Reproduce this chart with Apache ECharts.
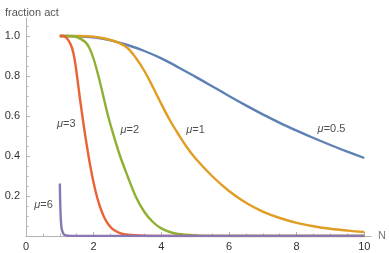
<!DOCTYPE html>
<html>
<head>
<meta charset="utf-8">
<script src="https://cdn.jsdelivr.net/npm/echarts@6/dist/echarts.min.js"></script>
<style>html,body{margin:0;padding:0;background:#fff}#c{width:389px;height:253px}</style>
</head>
<body>
<div id="c"></div>
<script>
// mu = 0.5
const nMu05 = [1, 1.5, 2, 2.5, 3, 3.5, 4, 4.5, 5, 5.5, 6, 6.5, 7, 7.5, 8, 8.5, 9, 9.5, 10];
const fMu05 = [1, 0.999, 0.993, 0.978, 0.955, 0.925, 0.888, 0.844, 0.797, 0.749, 0.70, 0.653, 0.608, 0.566, 0.527, 0.49, 0.455, 0.422, 0.39];
// mu = 1
const nMu1 = [1, 1.5, 2, 2.25, 2.5, 2.75, 3, 3.25, 3.5, 3.75, 4, 4.25, 4.5, 4.75, 5, 5.5, 6, 6.5, 7, 7.5, 8, 8.5, 9, 9.5, 10];
const fMu1 = [1, 1.0, 0.997, 0.99, 0.98, 0.965, 0.94, 0.89, 0.825, 0.745, 0.66, 0.58, 0.51, 0.445, 0.39, 0.30, 0.225, 0.166, 0.122, 0.09, 0.066, 0.049, 0.036, 0.027, 0.02];
// mu = 2
const nMu2 = [1, 1.25, 1.5, 1.75, 1.875, 2, 2.125, 2.25, 2.375, 2.5, 2.75, 3, 3.25, 3.5, 3.75, 4, 4.25, 4.5, 5, 5.5, 6, 8, 10];
const fMu2 = [1, 1.0, 0.995, 0.97, 0.94, 0.885, 0.81, 0.725, 0.635, 0.555, 0.415, 0.30, 0.195, 0.12, 0.07, 0.038, 0.02, 0.01, 0.003, 0.0005, 0, 0, 0];
// mu = 3
const nMu3 = [1, 1.1, 1.2, 1.3, 1.35, 1.4, 1.45, 1.5, 1.55, 1.6, 1.7, 1.8, 1.9, 2.0, 2.1, 2.2, 2.3, 2.4, 2.5, 2.6, 2.8, 3, 3.5, 4, 6, 8, 10];
const fMu3 = [1, 1.0, 0.99, 0.965, 0.945, 0.915, 0.87, 0.81, 0.745, 0.68, 0.56, 0.45, 0.35, 0.265, 0.195, 0.14, 0.098, 0.067, 0.045, 0.03, 0.013, 0.006, 0.001, 0, 0, 0, 0];
// mu = 6
const nMu6 = [1, 1.02, 1.05, 1.1, 1.15, 1.25, 1.5, 2, 4, 6, 8, 10];
const fMu6 = [0.262, 0.12, 0.04, 0.012, 0.004, 0.001, 0, 0, 0, 0, 0, 0];

// curve labels
const labelText = ['3', '2', '1', '0.5', '6'];
const labelN = [1.19, 3.07, 5.01, 9.03, 0.52];
const labelF = [0.56, 0.53, 0.53, 0.535, 0.155];

// ticks
const xMajor = [0, 2, 4, 6, 8, 10];
const xMinor = [0.5, 1, 1.5, 2.5, 3, 3.5, 4.5, 5, 5.5, 6.5, 7, 7.5, 8.5, 9, 9.5];
const yLabels = [0.2, 0.4, 0.6, 0.8, 1.0];
const yMinor = [0.05, 0.1, 0.15, 0.25, 0.3, 0.35, 0.45, 0.5, 0.55, 0.65, 0.7, 0.75, 0.85, 0.9, 0.95, 1.05];

const colors = ['#5E81B5', '#E19C24', '#8FB032', '#EB6235', '#8778B3'];
const axisColor = '#b3b3b3';
const font = 'Liberation Sans, Arial, sans-serif';

function pairs(n, f) { return n.map((x, i) => [x, f[i]]); }

const curves = [pairs(nMu05, fMu05), pairs(nMu1, fMu1), pairs(nMu2, fMu2), pairs(nMu3, fMu3), pairs(nMu6, fMu6)];

const series = curves.map((d, i) => ({
  type: 'line', xAxisIndex: 0, yAxisIndex: 0, data: d, showSymbol: false,
  smooth: 0.35,
  lineStyle: { color: colors[i], width: 2.4 }, z: 2 + i
}));
series.push({
  type: 'scatter', xAxisIndex: 0, yAxisIndex: 0, symbolSize: 0, itemStyle: { color: 'transparent' },
  data: labelText.map((t, i) => [labelN[i], labelF[i], t]),
  label: {
    show: true, position: 'inside',
    formatter: p => '{i|μ}{v|=' + p.data[2] + '}',
    rich: {
      i: { fontStyle: 'italic', fontSize: 11, color: '#222', fontFamily: font },
      v: { fontSize: 11, color: '#222', fontFamily: font }
    }
  }, z: 10
});

const chart = echarts.init(document.getElementById('c'), null, { renderer: 'canvas' });
chart.setOption({
  animation: false,
  title: { text: 'fraction act', left: 0, top: 2, textStyle: { fontSize: 11, fontWeight: 'normal', color: '#555', fontFamily: font } },
  grid: { left: 26, right: 17.3, top: 18, bottom: 17, containLabel: false },
  xAxis: [{
    type: 'value', min: 0, max: 10.2, position: 'bottom',
    name: 'N', nameLocation: 'end', nameGap: 7,
    nameTextStyle: { color: '#777', fontSize: 11, fontFamily: font },
    axisLine: { show: true, onZero: false, lineStyle: { color: axisColor, width: 1 } },
    axisTick: { show: true, inside: true, length: 4, customValues: xMajor, lineStyle: { color: axisColor } },
    axisLabel: { customValues: xMajor, color: '#333', fontSize: 11, margin: 5, fontFamily: font },
    splitLine: { show: false }
  }, {
    type: 'value', min: 0, max: 10.2, position: 'bottom', offset: 0,
    axisLine: { show: false },
    axisTick: { show: true, inside: true, length: 2.5, customValues: xMinor, lineStyle: { color: axisColor } },
    axisLabel: { show: false }, splitLine: { show: false }
  }],
  yAxis: [{
    type: 'value', min: 0, max: 1.09, position: 'left',
    axisLine: { show: true, onZero: false, lineStyle: { color: axisColor, width: 1 } },
    axisTick: { show: true, inside: true, length: 4, customValues: yLabels, lineStyle: { color: axisColor } },
    axisLabel: { customValues: yLabels, formatter: v => v.toFixed(1), color: '#333', fontSize: 11, margin: 6, fontFamily: font },
    splitLine: { show: false }
  }, {
    type: 'value', min: 0, max: 1.09, position: 'left', offset: 0,
    axisLine: { show: false },
    axisTick: { show: true, inside: true, length: 2.5, customValues: yMinor, lineStyle: { color: axisColor } },
    axisLabel: { show: false }, splitLine: { show: false }
  }],
  series: series
});
</script>
</body>
</html>
